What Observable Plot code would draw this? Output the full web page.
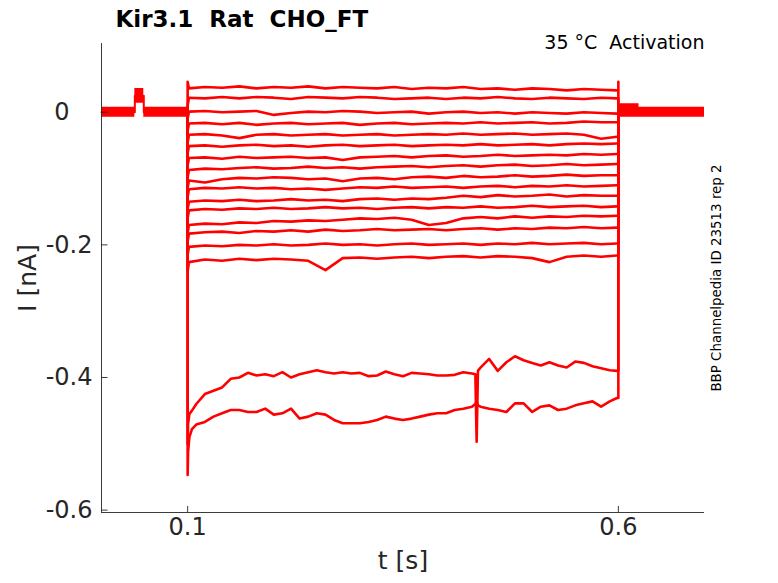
<!DOCTYPE html>
<html><head><meta charset="utf-8">
<script src="https://cdn.jsdelivr.net/npm/d3@7"></script>
<script src="https://cdn.jsdelivr.net/npm/@observablehq/plot@0.6"></script>
<style>
body{margin:0;background:#fff}
svg{font-family:"DejaVu Sans",sans-serif}
text{white-space:pre}
</style>
</head><body><div id="chart"></div>
<script>
// ---- text ----
const titleText = "Kir3.1  Rat  CHO_FT";
const tempText = "35 °C  Activation";
const sideText = "BBP Channelpedia ID 23513 rep 2";
const xLabel = "t [s]";
const yLabel = "I [nA]";

// ---- axes ----
const xDomain = [0, 0.7];
const yDomain = [-0.6036, 0.1037];
const xTicks = [0.1, 0.6];
const yTicks = [0, -0.2, -0.4, -0.6];

// ---- protocol ----
const pulseOn = 0.1, pulseOff = 0.6;

// holding-current noise envelope (before / after the pulse), nA
const preT  = [0, 0.0387, 0.0491, 0.1];
const preHi = [0.0075, 0.036, 0.0075, 0.0075];
const preLo = [-0.0075, 0.0136, -0.0075, -0.0075];
const postT  = [0.6, 0.624, 0.7];
const postHi = [0.013, 0.0075, 0.0075];
const postLo = [-0.0075, -0.0075, -0.0075];

// ---- upper family of traces (nA) sampled at pulseT ----
const pulseT = [0.1015,0.12,0.14,0.16,0.18,0.20,0.22,0.24,0.26,0.28,0.30,0.32,0.34,0.36,0.38,0.40,0.42,0.44,0.46,0.48,0.50,0.52,0.54,0.56,0.58,0.5985];
const T1  = [0.036,0.038,0.037,0.039,0.036,0.038,0.037,0.039,0.036,0.038,0.037,0.036,0.038,0.035,0.037,0.036,0.038,0.035,0.036,0.034,0.036,0.035,0.033,0.035,0.034,0.033];
const T2  = [0.022,0.021,0.023,0.021,0.023,0.022,0.020,0.023,0.022,0.021,0.023,0.022,0.020,0.021,0.022,0.020,0.022,0.021,0.023,0.021,0.020,0.022,0.021,0.020,0.022,0.021];
const T3  = [0.001,0.002,0.000,0.001,0.002,-0.004,-0.001,0.001,0.000,0.002,0.001,-0.001,0.000,0.001,-0.002,0.000,0.001,-0.001,0.000,-0.002,0.000,-0.001,-0.002,0.000,-0.001,-0.002];
const T4  = [-0.017,-0.016,-0.018,-0.016,-0.019,-0.017,-0.016,-0.018,-0.017,-0.016,-0.019,-0.017,-0.016,-0.018,-0.017,-0.016,-0.017,-0.015,-0.017,-0.016,-0.015,-0.017,-0.016,-0.014,-0.015,-0.015];
const T5  = [-0.034,-0.033,-0.035,-0.039,-0.034,-0.033,-0.035,-0.034,-0.033,-0.035,-0.034,-0.033,-0.035,-0.034,-0.033,-0.034,-0.032,-0.034,-0.033,-0.032,-0.034,-0.033,-0.032,-0.034,-0.040,-0.037];
const T6  = [-0.051,-0.050,-0.052,-0.050,-0.049,-0.051,-0.050,-0.052,-0.050,-0.049,-0.051,-0.050,-0.049,-0.051,-0.050,-0.049,-0.050,-0.048,-0.050,-0.049,-0.048,-0.050,-0.048,-0.047,-0.048,-0.047];
const T7  = [-0.069,-0.068,-0.070,-0.067,-0.069,-0.068,-0.067,-0.069,-0.068,-0.072,-0.068,-0.067,-0.066,-0.068,-0.066,-0.065,-0.067,-0.066,-0.064,-0.066,-0.065,-0.064,-0.065,-0.063,-0.064,-0.063];
const T8  = [-0.087,-0.085,-0.086,-0.084,-0.083,-0.085,-0.084,-0.082,-0.084,-0.083,-0.085,-0.083,-0.082,-0.081,-0.083,-0.081,-0.080,-0.082,-0.080,-0.079,-0.081,-0.080,-0.078,-0.080,-0.079,-0.078];
const T9  = [-0.103,-0.106,-0.101,-0.099,-0.100,-0.098,-0.099,-0.101,-0.100,-0.104,-0.100,-0.099,-0.101,-0.098,-0.097,-0.099,-0.096,-0.098,-0.097,-0.095,-0.097,-0.096,-0.094,-0.096,-0.095,-0.095];
const T10 = [-0.116,-0.114,-0.115,-0.113,-0.115,-0.114,-0.116,-0.115,-0.117,-0.115,-0.113,-0.114,-0.112,-0.114,-0.113,-0.112,-0.114,-0.112,-0.111,-0.113,-0.111,-0.112,-0.110,-0.112,-0.111,-0.110];
const T11 = [-0.135,-0.133,-0.134,-0.132,-0.134,-0.133,-0.131,-0.133,-0.132,-0.134,-0.131,-0.130,-0.132,-0.130,-0.131,-0.129,-0.126,-0.128,-0.125,-0.127,-0.126,-0.124,-0.127,-0.125,-0.126,-0.126];
const T12 = [-0.148,-0.146,-0.147,-0.145,-0.146,-0.144,-0.146,-0.145,-0.143,-0.145,-0.144,-0.146,-0.144,-0.143,-0.145,-0.143,-0.144,-0.142,-0.144,-0.143,-0.141,-0.143,-0.142,-0.141,-0.143,-0.142];
const T13 = [-0.170,-0.168,-0.169,-0.166,-0.167,-0.164,-0.165,-0.163,-0.164,-0.162,-0.160,-0.161,-0.159,-0.162,-0.170,-0.167,-0.160,-0.158,-0.160,-0.157,-0.159,-0.157,-0.158,-0.156,-0.157,-0.156];
const T14 = [-0.183,-0.181,-0.180,-0.182,-0.179,-0.180,-0.178,-0.180,-0.177,-0.179,-0.178,-0.176,-0.178,-0.177,-0.176,-0.178,-0.176,-0.175,-0.177,-0.175,-0.176,-0.174,-0.175,-0.173,-0.175,-0.174];
const T15 = [-0.203,-0.201,-0.202,-0.200,-0.201,-0.199,-0.201,-0.200,-0.198,-0.200,-0.199,-0.201,-0.199,-0.198,-0.200,-0.199,-0.198,-0.200,-0.198,-0.199,-0.197,-0.199,-0.198,-0.197,-0.199,-0.198];
const T16 = [-0.226,-0.222,-0.224,-0.221,-0.223,-0.221,-0.222,-0.224,-0.238,-0.220,-0.219,-0.221,-0.219,-0.218,-0.220,-0.218,-0.217,-0.219,-0.217,-0.218,-0.220,-0.226,-0.218,-0.216,-0.218,-0.216];
const upperTraces = [T1,T2,T3,T4,T5,T6,T7,T8,T9,T10,T11,T12,T13,T14,T15,T16];
const upperOnset  = [0.046,0.010,-0.010,-0.028,-0.046,-0.062,-0.080,-0.098,-0.114,-0.128,-0.146,-0.160,-0.182,-0.195,-0.215,-0.240];
const upperOffset = [0.046,0,0,0,0,0,0,0,0,0,0,0,0,0,0,0];

// ---- two large-current traces (nA) sampled at lowT ----
const lowT = [0.1005,0.102,0.105,0.11,0.12,0.13,0.14,0.15,0.16,0.17,0.18,0.19,0.20,0.21,0.22,0.23,0.24,0.25,0.26,0.27,0.28,0.29,0.30,0.31,0.32,0.33,0.34,0.35,0.36,0.37,0.38,0.39,0.40,0.41,0.42,0.43,0.434,0.4355,0.437,0.44,0.45,0.46,0.47,0.48,0.49,0.50,0.51,0.52,0.53,0.54,0.55,0.56,0.57,0.58,0.59,0.5985];
const LA = [-0.470,-0.455,-0.450,-0.440,-0.425,-0.420,-0.415,-0.402,-0.400,-0.393,-0.397,-0.395,-0.398,-0.392,-0.400,-0.395,-0.392,-0.389,-0.392,-0.394,-0.392,-0.394,-0.393,-0.398,-0.397,-0.391,-0.395,-0.398,-0.393,-0.394,-0.395,-0.397,-0.397,-0.396,-0.392,-0.394,-0.395,-0.497,-0.390,-0.385,-0.372,-0.390,-0.377,-0.368,-0.374,-0.378,-0.382,-0.377,-0.382,-0.385,-0.376,-0.378,-0.383,-0.386,-0.389,-0.390];
const LB = [-0.512,-0.490,-0.478,-0.471,-0.467,-0.459,-0.454,-0.449,-0.449,-0.452,-0.452,-0.447,-0.456,-0.454,-0.447,-0.462,-0.459,-0.454,-0.456,-0.464,-0.469,-0.469,-0.469,-0.467,-0.464,-0.459,-0.462,-0.464,-0.462,-0.459,-0.456,-0.454,-0.454,-0.449,-0.447,-0.444,-0.440,-0.436,-0.442,-0.444,-0.447,-0.449,-0.452,-0.439,-0.439,-0.452,-0.444,-0.442,-0.449,-0.447,-0.442,-0.439,-0.436,-0.444,-0.436,-0.431];
const lowerTraces = [LA, LB];
const lowerOnset  = [-0.500, -0.547];
const lowerOffset = [0, 0];

// ---- assemble rows ----
function traceRows(id, times, vals, on, off) {
  const rows = [{id, t: pulseOn, v: 0}, {id, t: pulseOn, v: on}];
  times.forEach((t, j) => rows.push({id, t, v: vals[j]}));
  rows.push({id, t: pulseOff, v: vals[vals.length - 1]});
  rows.push({id, t: pulseOff, v: off});
  rows.push({id, t: pulseOff, v: 0});
  return rows;
}
const rows = [];
upperTraces.forEach((vals, i) => rows.push(...traceRows("u" + i, pulseT, vals, upperOnset[i], upperOffset[i])));
lowerTraces.forEach((vals, i) => rows.push(...traceRows("l" + i, lowT, vals, lowerOnset[i], lowerOffset[i])));
const pre = preT.map((t, i) => ({t, lo: preLo[i], hi: preHi[i], mid: (preLo[i] + preHi[i]) / 2}));
const post = postT.map((t, i) => ({t, lo: postLo[i], hi: postHi[i]}));

const W = 778, H = 583, mT = 43, mB = 71, mL = 101, mR = 74;
const plotW = W - mL - mR, plotH = H - mT - mB;
const ink = "#262626";
const red = "#ff0000";

const chart = Plot.plot({
  width: W, height: H,
  marginTop: mT, marginBottom: mB, marginLeft: mL, marginRight: mR,
  x: {domain: xDomain, axis: null},
  y: {domain: yDomain, axis: null},
  style: {fontFamily: "DejaVu Sans, sans-serif", background: "#fff"},
  marks: [
    Plot.areaY(pre,  {x: "t", y1: "lo", y2: "hi", curve: "step-after", fill: red}),
    Plot.line(pre,   {x: "t", y: "mid", curve: "step-after", stroke: red, strokeWidth: 2}),
    Plot.areaY(post, {x: "t", y1: "lo", y2: "hi", curve: "step-after", fill: red}),
    Plot.line(rows, {x: "t", y: "v", z: "id", stroke: red, strokeWidth: 2.6, curve: "linear", strokeLinejoin: "round"}),
    // axis lines (box off: left + bottom)
    Plot.ruleX([xDomain[0]], {stroke: ink, strokeWidth: 0.9}),
    Plot.ruleY([yDomain[0]], {stroke: ink, strokeWidth: 0.9}),
    // inward ticks
    Plot.tickX(xTicks, {x: d => d, insetTop: plotH - 6, stroke: ink, strokeWidth: 0.9}),
    Plot.tickY(yTicks, {y: d => d, insetRight: plotW - 6.5, stroke: ink, strokeWidth: 0.9}),
    // tick labels
    Plot.text(xTicks, {x: d => d, frameAnchor: "bottom", dy: 22.5, textAnchor: "middle", text: d => String(d), fontSize: 24, fill: ink}),
    Plot.text(yTicks.filter(d => d !== 0), {y: d => d, frameAnchor: "left", dx: -9, textAnchor: "end", text: d => String(d), fontSize: 24, fill: ink}),
    Plot.text(yTicks.filter(d => d === 0), {y: d => d, frameAnchor: "left", dx: -32, textAnchor: "end", text: d => String(d), fontSize: 24, fill: ink}),
    // axis labels
    Plot.text([xLabel], {frameAnchor: "bottom", dy: 56, textAnchor: "middle", text: d => d, fontSize: 25, fill: ink}),
    Plot.text([yLabel], {frameAnchor: "left", dx: -74, rotate: -90, textAnchor: "middle", text: d => d, fontSize: 25, fill: ink}),
    // title & annotations
    Plot.text([titleText], {frameAnchor: "top-left", dx: 14, dy: -16.3, textAnchor: "start", lineAnchor: "bottom", text: d => d, fontSize: 23, fontWeight: "bold", fill: "#000"}),
    Plot.text([tempText], {frameAnchor: "top-right", dy: 5.5, textAnchor: "end", lineAnchor: "bottom", text: d => d, fontSize: 19, fill: "#000"}),
    Plot.text([sideText], {frameAnchor: "right", dx: 12, rotate: -90, textAnchor: "middle", text: d => d, fontSize: 13.4, fill: "#000"})
  ]
});
document.getElementById("chart").appendChild(chart);
</script>
</body></html>
